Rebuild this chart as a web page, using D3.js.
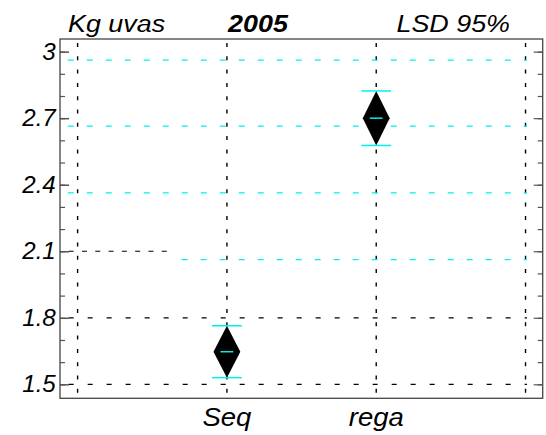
<!DOCTYPE html>
<html>
<head>
<meta charset="utf-8">
<script src="https://cdn.jsdelivr.net/npm/d3@7"></script>
<style>
  body { margin: 0; background: #fff; }
  svg { display: block; font-family: "Liberation Sans", Arial, sans-serif; }
</style>
</head>
<body>
<div id="chart"></div>
<script>
// Means plot, LSD 95% intervals
const categories = ["Seq", "rega"];
const means = [1.647, 2.70];
const lsdHalf = [0.117, 0.123];
const yTicks = [1.5, 1.8, 2.1, 2.4, 2.7, 3];
const minorTicks = [1.5, 1.6, 1.7, 1.8, 1.9, 2.0, 2.1, 2.2, 2.3, 2.4, 2.5, 2.6, 2.7, 2.8, 2.9, 3.0];
const gridX = [0, 1, 2, 3];
const blackLines = [1.5, 1.8, 2.1];
const cyanLines = [2.962, 2.664, 2.363, 2.062];

const width = 546, height = 435;
const plotLeft = 60, plotRight = 542.7, plotTop = 39, plotBottom = 398.3;

const svg = d3.select("#chart").append("svg")
  .attr("width", width)
  .attr("height", height);

const x = d3.scaleLinear().domain([-0.118, 3.115]).range([plotLeft, plotRight]);
const y = d3.scaleLinear().domain([1.437, 3.057]).range([plotBottom, plotTop]);

// vertical dashed lines
svg.append("g").selectAll("line")
  .data(gridX)
  .enter().append("line")
  .attr("x1", d => x(d)).attr("x2", d => x(d))
  .attr("y1", plotTop).attr("y2", plotBottom)
  .attr("stroke", "#000")
  .attr("stroke-width", 1.4)
  .attr("stroke-dasharray", "4,9.3")
  .attr("stroke-dashoffset", -4);

// black horizontal dashed lines (2.1 stops early)
svg.append("g").selectAll("line")
  .data(blackLines)
  .enter().append("line")
  .attr("x1", x(-0.06))
  .attr("x2", d => d === 2.1 ? x(0.622) : x(3.01))
  .attr("y1", d => y(d)).attr("y2", d => y(d))
  .attr("stroke", "#000")
  .attr("stroke-width", 1.2)
  .attr("stroke-dasharray", d => d === 2.1 ? "5,8.3" : "5,14");

// cyan horizontal dashed lines
svg.append("g").selectAll("line")
  .data(cyanLines)
  .enter().append("line")
  .attr("x1", (d, i) => i === 3 ? x(0.697) : x(-0.066))
  .attr("x2", x(3.01))
  .attr("y1", d => y(d)).attr("y2", d => y(d))
  .attr("stroke", "#00f0f0")
  .attr("stroke-width", 1.2)
  .attr("stroke-dasharray", "6,13");

// diamonds
const dia = svg.append("g").selectAll("g")
  .data(categories.map((c, i) => ({ name: c, pos: i + 1, mean: means[i], half: lsdHalf[i] })))
  .enter().append("g");

dia.append("path")
  .attr("d", d => {
    const cx = x(d.pos), hw = x(d.pos + 0.09) - x(d.pos);
    return `M${cx},${y(d.mean + d.half)} L${cx + hw},${y(d.mean)} L${cx},${y(d.mean - d.half)} L${cx - hw},${y(d.mean)} Z`;
  })
  .attr("fill", "#000");

dia.selectAll("line.cap")
  .data(d => [d.mean + d.half, d.mean - d.half].map(v => ({ pos: d.pos, v })))
  .enter().append("line")
  .attr("class", "cap")
  .attr("x1", d => x(d.pos - 0.1)).attr("x2", d => x(d.pos + 0.1))
  .attr("y1", d => y(d.v)).attr("y2", d => y(d.v))
  .attr("stroke", "#00f0f0")
  .attr("stroke-width", 1.5);

dia.append("line")
  .attr("x1", d => x(d.pos - 0.043)).attr("x2", d => x(d.pos + 0.043))
  .attr("y1", d => y(d.mean)).attr("y2", d => y(d.mean))
  .attr("stroke", "#00f0f0")
  .attr("stroke-width", 1.5);

// axes: ticks drawn inward
const majorLeft = d3.axisLeft(y).tickValues(yTicks).tickSize(-9).tickPadding(4).tickFormat(d => String(d));
const minorLeft = d3.axisLeft(y).tickValues(minorTicks).tickSize(-5).tickFormat("");
const majorRight = d3.axisRight(y).tickValues(yTicks).tickSize(-9).tickFormat("");
const minorRight = d3.axisRight(y).tickValues(minorTicks).tickSize(-5).tickFormat("");

function styleAxis(g) {
  g.select(".domain").remove();
  g.selectAll(".tick line").attr("stroke", "#555").attr("stroke-width", 1.2);
}

svg.append("g").attr("transform", `translate(${plotLeft},0)`).call(minorLeft).call(styleAxis);
svg.append("g").attr("transform", `translate(${plotRight},0)`).call(minorRight).call(styleAxis);
svg.append("g").attr("transform", `translate(${plotRight},0)`).call(majorRight).call(styleAxis);
const yAxis = svg.append("g").attr("transform", `translate(${plotLeft},0)`).call(majorLeft).call(styleAxis);
yAxis.selectAll(".tick line").attr("stroke-width", 1.5);
yAxis.selectAll("text")
  .attr("fill", "#000")
  .style("font-size", "23px")
  .style("font-style", "italic")
  .style("font-family", "Liberation Sans, Arial, sans-serif")
  .attr("transform", "scale(1.05,1)");

// frame
svg.append("rect")
  .attr("x", plotLeft).attr("y", plotTop)
  .attr("width", plotRight - plotLeft).attr("height", plotBottom - plotTop)
  .attr("fill", "none")
  .attr("stroke", "#444")
  .attr("stroke-width", 1.3);

// x labels
svg.append("g").selectAll("text")
  .data(categories)
  .enter().append("text")
  .attr("transform", (d, i) => `translate(${x(i + 1)},426) scale(1.1,1)`)
  .attr("text-anchor", "middle")
  .style("font-size", "25px")
  .style("font-style", "italic")
  .text(d => d);

// header texts
function header(txt, xpos, anchor, bold) {
  svg.append("text")
    .attr("transform", `translate(${xpos},32) scale(1.12,1)`)
    .attr("text-anchor", anchor)
    .style("font-size", "24px")
    .style("font-style", "italic")
    .style("font-weight", bold ? "bold" : "normal")
    .text(txt);
}
header("Kg uvas", 68, "start", false);
header("2005", 258, "middle", true);
header("LSD 95%", 510, "end", false);
</script>
</body>
</html>
